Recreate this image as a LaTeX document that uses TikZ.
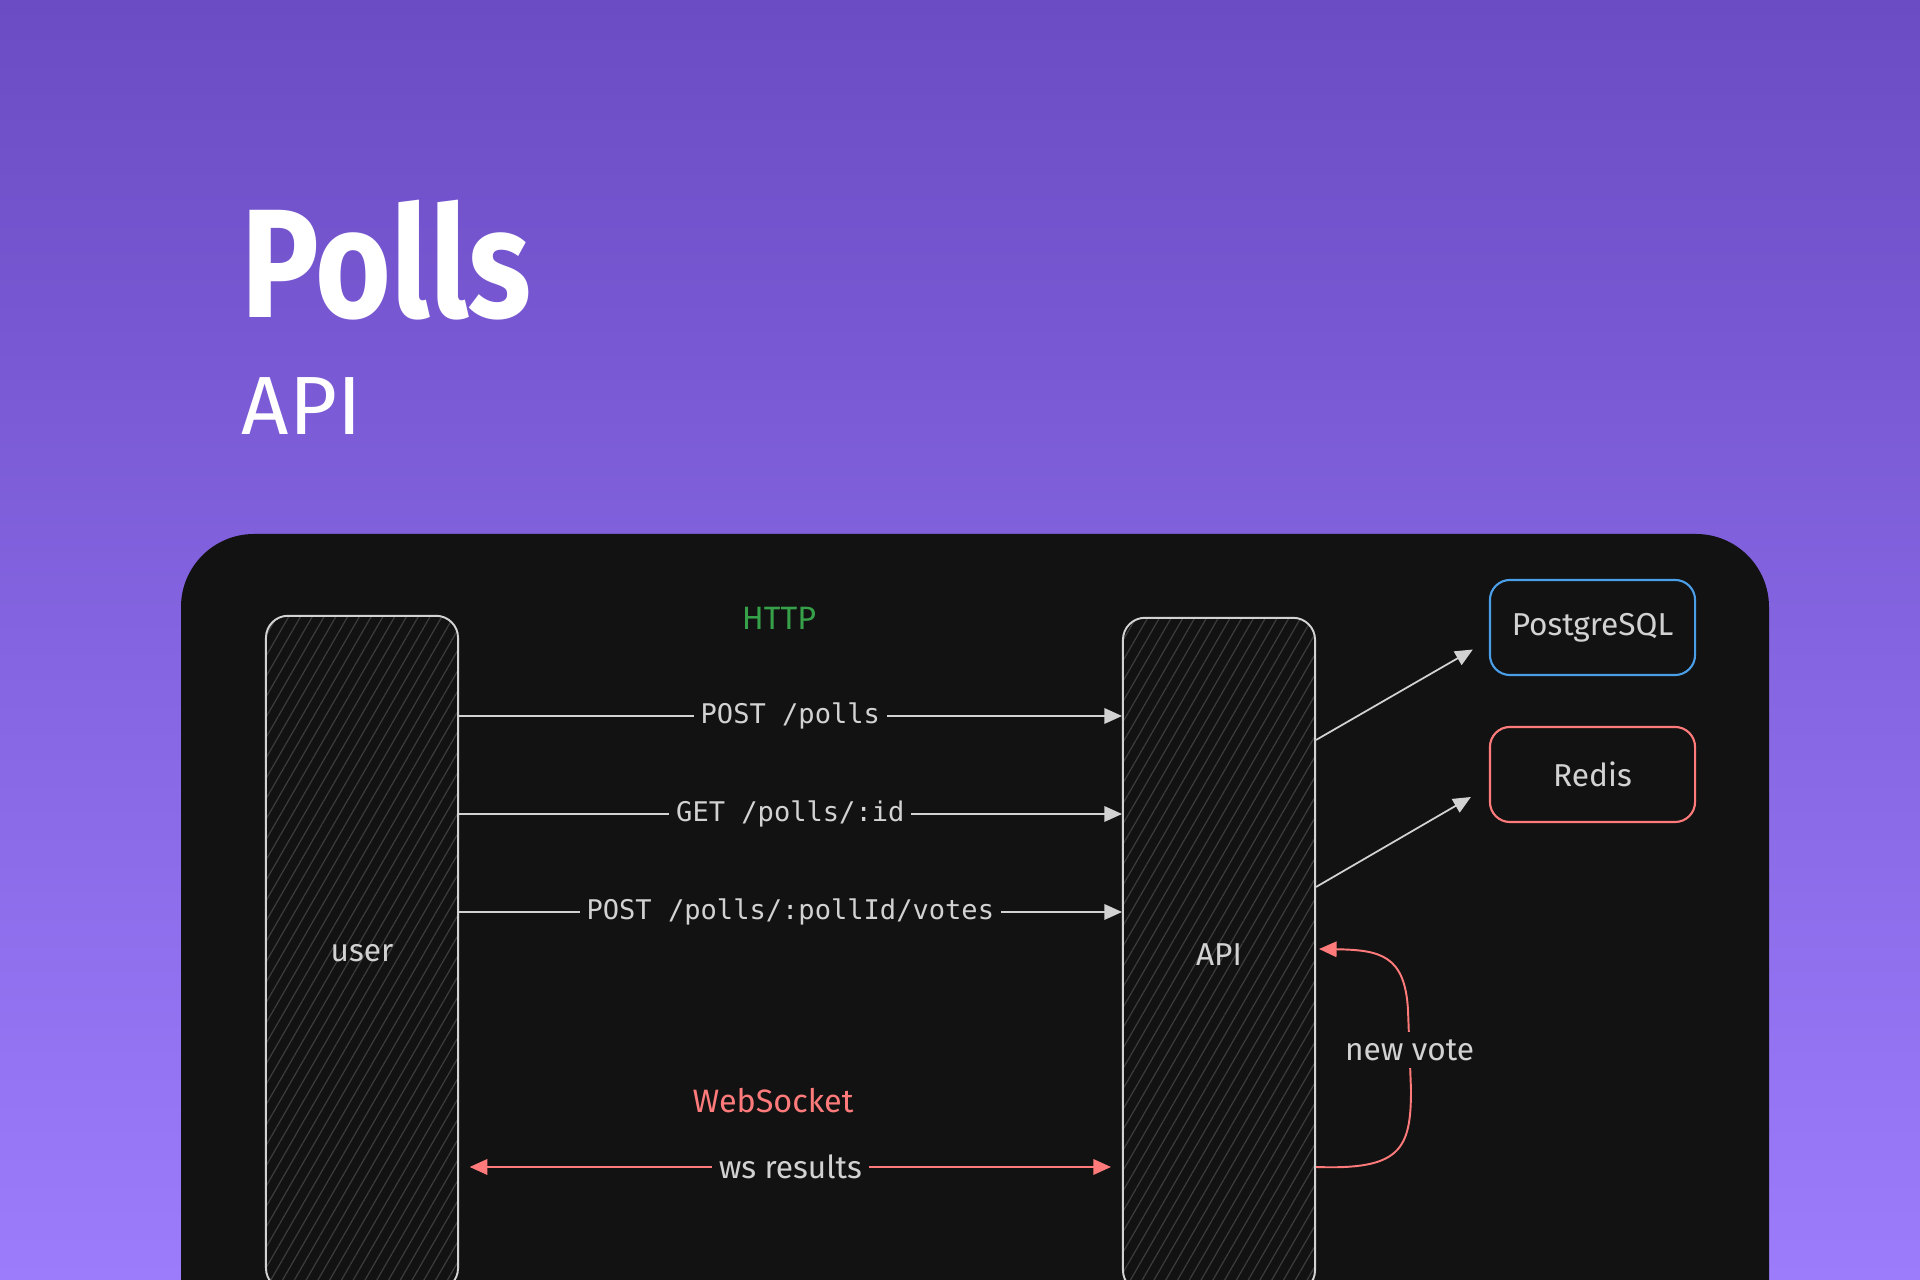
\documentclass[tikz,border=0pt]{standalone}
\usepackage{fontspec}
\usepackage{graphicx}
\setmainfont{Fira Sans}
\newfontfamily\handfont{Fira Sans}
\newfontfamily\codefont{DejaVu Sans Mono}
\usetikzlibrary{arrows.meta,patterns.meta,positioning,calc}

\definecolor{bgtop}{HTML}{6B4CC4}
\definecolor{bgbottom}{HTML}{9D7CFC}
\definecolor{panel}{HTML}{121212}
\definecolor{stroke}{HTML}{D2D2D2}
\definecolor{hatch}{HTML}{3C3C3C}
\definecolor{wsred}{HTML}{FF7B7B}
\definecolor{httpgreen}{HTML}{36A148}
\definecolor{pgblue}{HTML}{4A9FE8}

\tikzset{
  lane/.style={draw=stroke, line width=0.55pt, rounded corners=0.22cm,
    minimum width=1.92cm, minimum height=6.74cm, inner sep=0pt,
    pattern={Lines[angle=60,distance=2.9pt,line width=0.35pt]}, pattern color=hatch,
    text=stroke, font=\handfont\fontsize{9}{11}\selectfont},
  store/.style={draw=#1, line width=0.6pt, rounded corners=0.2cm,
    minimum width=2.05cm, minimum height=0.95cm,
    text=stroke, font=\handfont\fontsize{9}{11}\selectfont},
  tip/.style={Triangle[length=5pt,width=4.4pt]},
  call/.style={draw=stroke, line width=0.5pt, -{Triangle[length=5pt,width=4.4pt]}},
  sock/.style={draw=wsred, line width=0.55pt},
  codelbl/.style={fill=panel, inner sep=2pt, text=stroke, font=\codefont\fontsize{7.7}{9}\selectfont},
  handlbl/.style={fill=panel, inner sep=2pt, text=stroke, font=\handfont\fontsize{9}{11}\selectfont},
  tag/.style={font=\handfont\fontsize{9.2}{11}\selectfont}
}

\begin{document}
\begin{tikzpicture}[x=0.01cm, y=-0.01cm]

    % --- SFONDO ---
    \useasboundingbox (0,0) rectangle (1920,1280);
    \clip (0,0) rectangle (1920,1280);
    \shade[top color=bgtop, bottom color=bgbottom] (0,0) rectangle (1920,1280);

    % Titolo
    \node[anchor=base west, inner sep=0pt, text=white, font=\fontsize{44}{50}\selectfont\bfseries] (title) at (241,318) {\scalebox{0.84}[1]{Polls}};
    \node[anchor=base west, inner sep=0pt, text=white, font=\fontsize{23.5}{28}\selectfont] (subtitle) at (241,435) {API};

    % Pannello scuro
    \fill[panel, rounded corners=0.73cm] (181,1500) rectangle (1769,534);

    % --- BLOCCHI ---
    \node[lane] (user) at (362,953) {user};
    \node[lane] (api)  at (1219,955) {API};

    \node[store=pgblue] (pg)    at (1592.5,627.5) {PostgreSQL};
    \node[store=wsred]  (redis) at (1592.5,774.5) {Redis};

    % Etichette dei protocolli
    \node[tag, text=httpgreen] (http) at (779,618)  {HTTP};
    \node[tag, text=wsred]     (ws)   at (773,1101) {WebSocket};

    % Righe delle chiamate
    \coordinate (r1) at (0,716);
    \coordinate (r2) at (0,814);
    \coordinate (r3) at (0,912);
    \coordinate (r4) at (0,1167);
    \coordinate (r5) at (0,949);

    % --- CHIAMATE HTTP ---
    \draw[call] (user.east |- r1) -- node[codelbl] {POST /polls} (api.west |- r1);
    \draw[call] (user.east |- r2) -- node[codelbl] {GET /polls/:id} (api.west |- r2);
    \draw[call] (user.east |- r3) -- node[codelbl] {POST /polls/:pollId/votes} (api.west |- r3);

    % API verso i database
    \draw[call] (api.east |- 0,740) -- ([xshift=-0.16cm,yshift=-0.22cm]pg.west);
    \draw[call] (api.east |- 0,887) -- ([xshift=-0.18cm,yshift=-0.225cm]redis.west);

    % --- WEBSOCKET ---
    \draw[sock, {Triangle[length=5pt,width=4.4pt]}-{Triangle[length=5pt,width=4.4pt]}]
        ([xshift=0.11cm]user.east |- r4) -- node[handlbl] {ws results} ([xshift=-0.11cm]api.west |- r4);

    \draw[sock, -{Triangle[length=5pt,width=4.4pt]}]
        (api.east |- r4) .. controls (1400,1170) and (1411,1150) .. (1411,1090)
        -- node[handlbl] {new vote} (1408,1010)
        .. controls (1405,955) and (1380,950) .. ([xshift=0.03cm]api.east |- r5);

\end{tikzpicture}
\end{document}
